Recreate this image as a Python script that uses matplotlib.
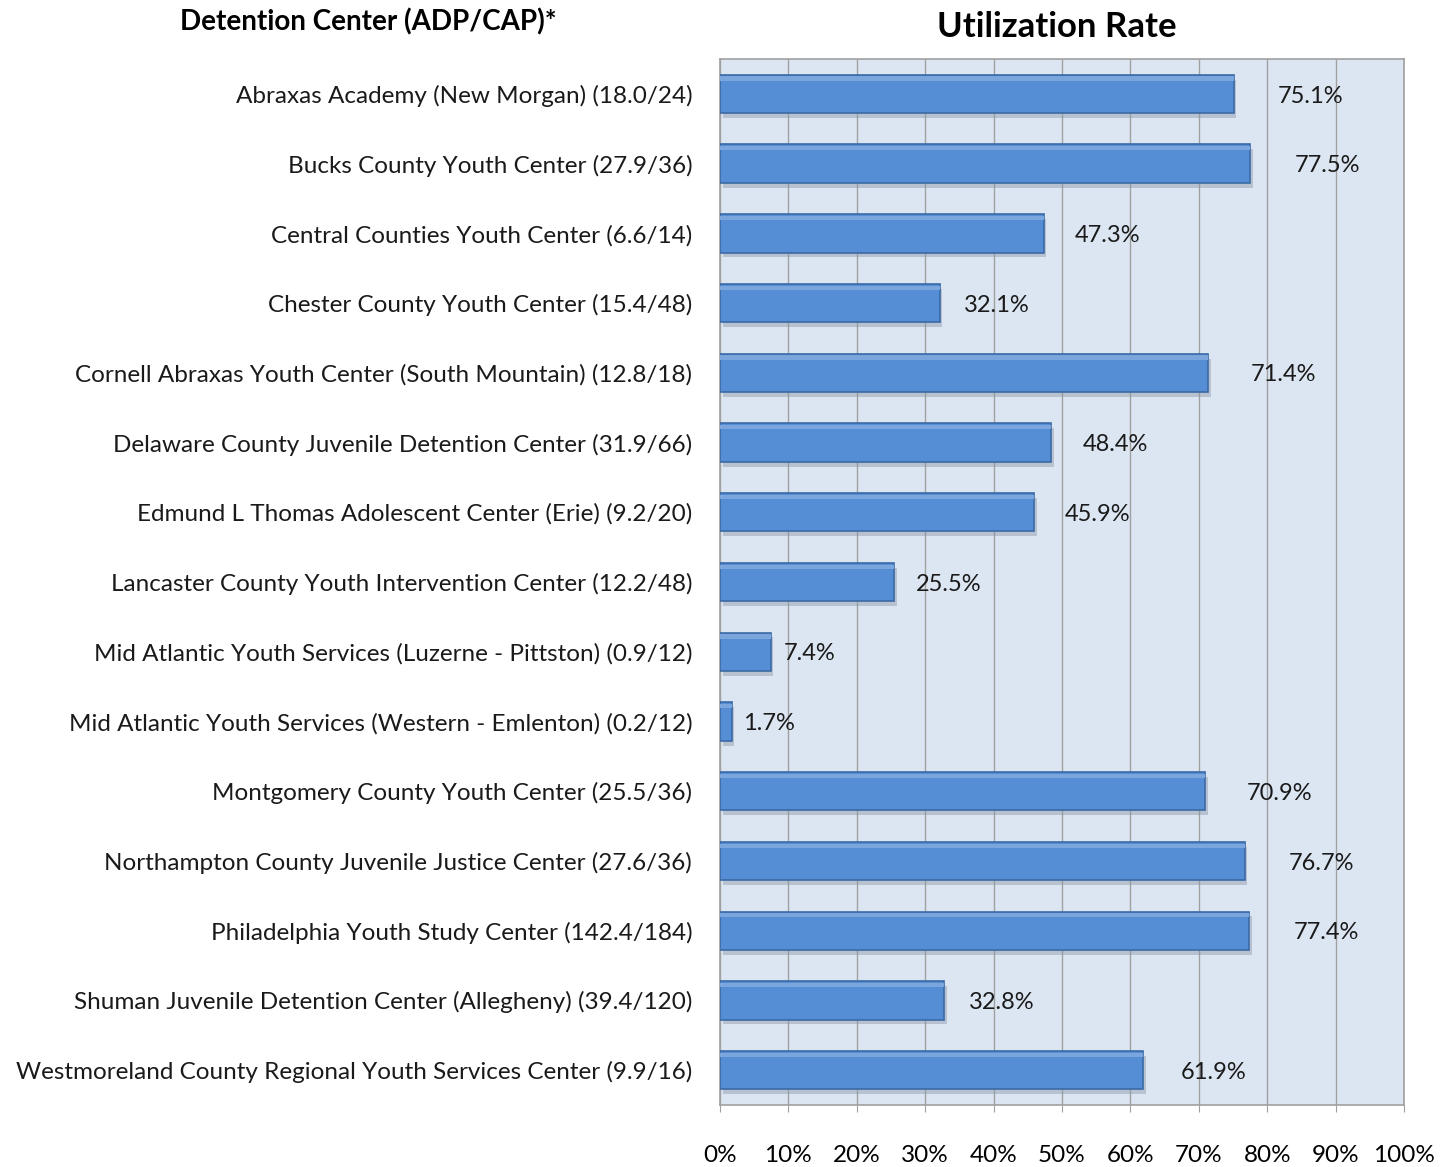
import numpy as np
import matplotlib.pyplot as plt

centers = [
    "Abraxas Academy (New Morgan) (18.0/24)",
    "Bucks County Youth Center (27.9/36)",
    "Central Counties Youth Center (6.6/14)",
    "Chester County Youth Center (15.4/48)",
    "Cornell Abraxas Youth Center (South Mountain) (12.8/18)",
    "Delaware County Juvenile Detention Center (31.9/66)",
    "Edmund L Thomas Adolescent Center (Erie) (9.2/20)",
    "Lancaster County Youth Intervention Center (12.2/48)",
    "Mid Atlantic Youth Services (Luzerne - Pittston) (0.9/12)",
    "Mid Atlantic Youth Services (Western - Emlenton) (0.2/12)",
    "Montgomery County Youth Center (25.5/36)",
    "Northampton County Juvenile Justice Center (27.6/36)",
    "Philadelphia Youth Study Center (142.4/184)",
    "Shuman Juvenile Detention Center (Allegheny) (39.4/120)",
    "Westmoreland County Regional Youth Services Center (9.9/16)",
]
rates = [75.1, 77.5, 47.3, 32.1, 71.4, 48.4, 45.9, 25.5, 7.4, 1.7,
         70.9, 76.7, 77.4, 32.8, 61.9]
xticks = [0, 10, 20, 30, 40, 50, 60, 70, 80, 90, 100]

plt.rcParams['font.family'] = ['Lato', 'DejaVu Sans']

fig = plt.figure(figsize=(14.4, 11.67), dpi=100)
ax = fig.add_axes([0.5, 0.0531, 0.475, 0.8963])
ax.set_facecolor('#dce6f2')

y = np.arange(len(centers))
# soft shadow behind the bars
ax.barh(y + 0.07, rates, height=0.55, left=0.4, color='#8a96a6', alpha=0.45,
        zorder=2, linewidth=0)
ax.barh(y, rates, height=0.55, color='#558ed5', edgecolor='#3b6aa6',
        linewidth=1.2, zorder=3)
# light highlight on top edge
ax.barh(y - 0.22, rates, height=0.06, color='#7aa6dd', linewidth=0, zorder=4)

for yi, v in zip(y, rates):
    ax.text(v + 1.5 + 0.065 * v, yi + 0.03, f"{v:.1f}%", va='center', ha='left',
            fontsize=17, color='#1a1a1a', zorder=5)

ax.set_xlim(0, 100)
ax.set_ylim(len(centers) - 0.5, -0.5)
ax.set_xticks(xticks)
ax.set_xticklabels([f"{t}%" for t in xticks], fontsize=17.5)
ax.set_yticks(y)
ax.set_yticklabels(centers, fontsize=17.5, color='#1a1a1a')
ax.tick_params(axis='y', length=0, pad=20)
ax.tick_params(axis='x', length=5, color='#a0a0a0', pad=24)
ax.grid(axis='x', color='#a0a0a0', linewidth=1, zorder=1)
ax.set_axisbelow(True)
for s in ax.spines.values():
    s.set_color('#a0a0a0')
    s.set_linewidth(1.2)

fig.text(368 / 1440, 1 - 22 / 1167, "Detention Center (ADP/CAP)*", ha='center',
         va='center', fontsize=20, fontweight='bold')
fig.text(1057 / 1440, 1 - 27 / 1167, "Utilization Rate", ha='center',
         va='center', fontsize=25, fontweight='bold')

fig.savefig('out.png', dpi=100)
